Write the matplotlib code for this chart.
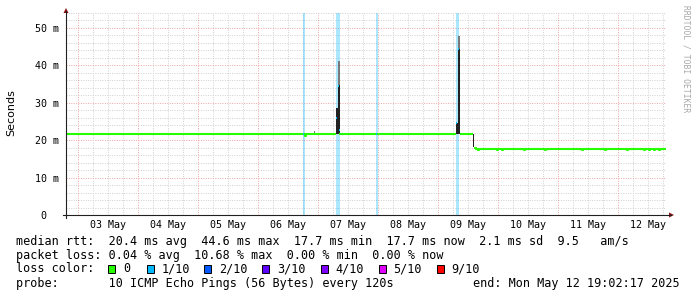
import matplotlib
matplotlib.use("Agg")
import matplotlib.pyplot as plt
import matplotlib.dates as mdates
import numpy as np
import pandas as pd
from matplotlib.patches import Rectangle, Polygon
from matplotlib.lines import Line2D

# ---------------- data ----------------
t_start = "2025-05-02 19:02:17"
t_end = "2025-05-12 19:02:17"
day_labels = ["03 May", "04 May", "05 May", "06 May", "07 May",
              "08 May", "09 May", "10 May", "11 May", "12 May"]
day_dates = ["2025-05-03", "2025-05-04", "2025-05-05", "2025-05-06", "2025-05-07",
             "2025-05-08", "2025-05-09", "2025-05-10", "2025-05-11", "2025-05-12"]

# median rtt (ms) drawn with loss 0 (green) as a step series; NaN = other loss colour
median_t = ["2025-05-02 19:02", "2025-05-06 18:02", "2025-05-06 18:26", "2025-05-06 18:50",
            "2025-05-06 19:14", "2025-05-07 07:14", "2025-05-07 08:26", "2025-05-07 23:14",
            "2025-05-07 23:38", "2025-05-09 07:14", "2025-05-09 08:38", "2025-05-09 14:02",
            "2025-05-09 14:26", "2025-05-09 15:02", "2025-05-09 16:02", "2025-05-09 16:26",
            "2025-05-09 23:38", "2025-05-10 00:02", "2025-05-10 01:38", "2025-05-10 02:02",
            "2025-05-10 10:26", "2025-05-10 10:50", "2025-05-10 18:50", "2025-05-10 19:14",
            "2025-05-11 09:38", "2025-05-11 10:02", "2025-05-11 18:50", "2025-05-11 19:14",
            "2025-05-12 03:38", "2025-05-12 04:02", "2025-05-12 10:26", "2025-05-12 10:50",
            "2025-05-12 12:26", "2025-05-12 12:50", "2025-05-12 14:26", "2025-05-12 14:50",
            "2025-05-12 16:26", "2025-05-12 16:50", "2025-05-12 19:02"]
median_v = [21.6, np.nan, 21.6, 21.2,
            21.6, np.nan, 21.6, np.nan,
            21.6, np.nan, 21.6, np.nan,
            17.9, 17.6, 17.35, 17.6,
            17.35, 17.6, 17.35, 17.6,
            17.35, 17.6, 17.35, 17.6,
            17.35, 17.6, 17.3, 17.6,
            17.35, 17.6, 17.35, 17.6,
            17.35, 17.6, 17.35, 17.6,
            17.35, 17.6, 17.6]

# median points with loss 1/10 (time, ms)
loss1_t = ["2025-05-06 18:02", "2025-05-07 07:14", "2025-05-07 07:50", "2025-05-07 08:14",
           "2025-05-07 23:14", "2025-05-09 07:14", "2025-05-09 07:50"]
loss1_v = [21.6, 25.9, 34.5, 22.7, 21.6, 24.6, 44.3]

# loss bars (start time, duration in minutes)
lossbar_t = ["2025-05-06 18:02", "2025-05-07 07:14", "2025-05-07 23:14", "2025-05-09 07:14"]
lossbar_min = [40, 80, 40, 64]

# smoke: (time, low ms, high ms, duration min) dark core and light top
smoke_dark_t = ["2025-05-07 07:14", "2025-05-07 07:50", "2025-05-09 07:10",
                "2025-05-09 07:50", "2025-05-09 14:02", "2025-05-12 09:50"]
smoke_dark_lo = [21.6, 21.6, 21.6, 21.6, 18.2, 17.6]
smoke_dark_hi = [28.6, 34.8, 24.6, 44.3, 21.6, 18.0]
smoke_dark_min = [30, 48, 40, 48, 22, 24]
smoke_light_t = ["2025-05-07 07:50", "2025-05-09 07:50", "2025-05-06 22:14"]
smoke_light_lo = [34.8, 44.3, 21.6]
smoke_light_hi = [41.2, 47.9, 22.5]
smoke_light_min = [40, 40, 20]

yticks = [0, 10, 20, 30, 40, 50]
ytick_labels = ["0  ", "10 m", "20 m", "30 m", "40 m", "50 m"]

loss_labels = ["0", "1/10", "2/10", "3/10", "4/10", "5/10", "9/10"]
loss_colors = ["#26ff00", "#00b8ff", "#0059ff", "#5e00ff", "#7e00ff", "#dd00ff", "#ff0000"]

legend_rows = [
    "median rtt:  20.4 ms avg  44.6 ms max  17.7 ms min  17.7 ms now  2.1 ms sd  9.5   am/s",
    "packet loss: 0.04 % avg  10.68 % max  0.00 % min  0.00 % now",
    "loss color:",
    "probe:       10 ICMP Echo Pings (56 Bytes) every 120s",
]
end_text = "end: Mon May 12 19:02:17 2025"

# ---------------- layout ----------------
W, H, DPI = 697, 297, 100
fig = plt.figure(figsize=(W / DPI, H / DPI), dpi=DPI)
fig.patch.set_facecolor("white")


def fx(px):
    return px / W


def fy(py):
    return 1 - py / H


L, R, T, B = 66, 666, 13, 215
ax = fig.add_axes([fx(L), fy(B), fx(R) - fx(L), fy(T) - fy(B)])
ax.set_facecolor("white")

tnum = lambda s: mdates.date2num(pd.Timestamp(s).to_pydatetime())
x0, x1 = tnum(t_start), tnum(t_end)
ax.set_xlim(x0, x1)
ax.set_ylim(0, 54)
for s in ax.spines.values():
    s.set_visible(False)

MONO = "DejaVu Sans Mono"
dot = (0, (1, 1.4))
lw1 = 0.72
grid_kw = dict(lw=lw1, ls=dot, zorder=1)
minor_col = "#d2d2d2"
major_col = "#f0a8a8"

# grid
for m in np.arange(0, 54.01, 2):
    if m % 10 == 0:
        continue
    ax.axhline(m, color=minor_col, **grid_kw)
for m in yticks[1:]:
    ax.axhline(m, color=major_col, **grid_kw)
day0 = np.floor(x0)
hrs = np.arange(day0, x1 + 0.01, 0.25)
for h in hrs:
    if h <= x0 or h >= x1:
        continue
    if abs(h - round(h)) < 1e-6:
        ax.axvline(h, color=major_col, **grid_kw)
    else:
        ax.axvline(h, color=minor_col, **grid_kw)

# loss bars
for t, d in zip(lossbar_t, lossbar_min):
    a = tnum(t)
    ax.axvspan(a, a + d / 1440, color="#00b8ff", alpha=0.33, lw=0, zorder=2)

# smoke
for t, lo, hi, d in zip(smoke_light_t, smoke_light_lo, smoke_light_hi, smoke_light_min):
    a = tnum(t)
    ax.add_patch(Rectangle((a, lo), d / 1440, hi - lo, facecolor="#7a7a7a", lw=0, zorder=3))
for t, lo, hi, d in zip(smoke_dark_t, smoke_dark_lo, smoke_dark_hi, smoke_dark_min):
    a = tnum(t)
    ax.add_patch(Rectangle((a, lo), d / 1440, hi - lo, facecolor="#222222", lw=0, zorder=3))

# median line (loss 0)
mt = [tnum(t) for t in median_t]
ax.step(mt, median_v, where="post", color="#26ff00", lw=1.5, zorder=4, solid_capstyle="butt")

# median points with loss 1/10
for t, v in zip(loss1_t, loss1_v):
    a = tnum(t)
    ax.plot([a, a + 24 / 1440], [v, v], color="#00b8ff", lw=1.5, zorder=5, solid_capstyle="butt")

# ticks
ax.set_yticks(yticks)
ax.set_yticklabels(ytick_labels, fontfamily=MONO, fontsize=7.2)
noon = [tnum(d) + 0.5 for d in day_dates]
ax.set_xticks(noon)
ax.set_xticklabels(day_labels, fontfamily=MONO, fontsize=7.2)
ax.tick_params(axis="x", length=0, pad=3.5)
ax.tick_params(axis="y", length=0, pad=5)

# axes with arrows (figure pixel coordinates)
axis_col = "#202020"
fig.add_artist(Line2D([fx(63), fx(671)], [fy(215), fy(215)], color=axis_col, lw=0.8))
fig.add_artist(Line2D([fx(66), fx(66)], [fy(218), fy(11)], color=axis_col, lw=0.8))
fig.add_artist(Polygon([[fx(669), fy(212.5)], [fx(674), fy(215)], [fx(669), fy(217.5)]],
                       closed=True, facecolor="#8b1010", edgecolor="none"))
fig.add_artist(Polygon([[fx(63.5), fy(13)], [fx(66), fy(8)], [fx(68.5), fy(13)]],
                       closed=True, facecolor="#8b1010", edgecolor="none"))

# labels
fig.text(fx(11), fy(113), "Seconds", rotation=90, ha="center", va="center",
         fontsize=8.0, family="DejaVu Sans")
fig.text(fx(686), fy(5), "RRDTOOL / TOBI OETIKER", rotation=270, ha="center", va="top",
         fontsize=5.8, family=MONO, color="#a8a8a8")

row_y = [241, 255, 269, 283]
for s, y in zip(legend_rows, row_y):
    fig.text(fx(16), fy(y), s, ha="left", va="center", fontsize=8.5, family=MONO)
fig.text(fx(680), fy(row_y[3]), end_text, ha="right", va="center", fontsize=8.5, family=MONO)

box_x = [108.3, 146.7, 204.3, 262.3, 320.5, 378.5, 436.5]
for bx, lab, col in zip(box_x, loss_labels, loss_colors):
    fig.add_artist(Rectangle((fx(bx), fy(row_y[2] + 4)), 7 / W, 8 / H,
                             facecolor=col, edgecolor="black", lw=0.7))
    fig.text(fx(bx + 15), fy(row_y[2]), lab, ha="left", va="center", fontsize=8.5, family=MONO)

fig.savefig("out.png", dpi=DPI, facecolor="white")
